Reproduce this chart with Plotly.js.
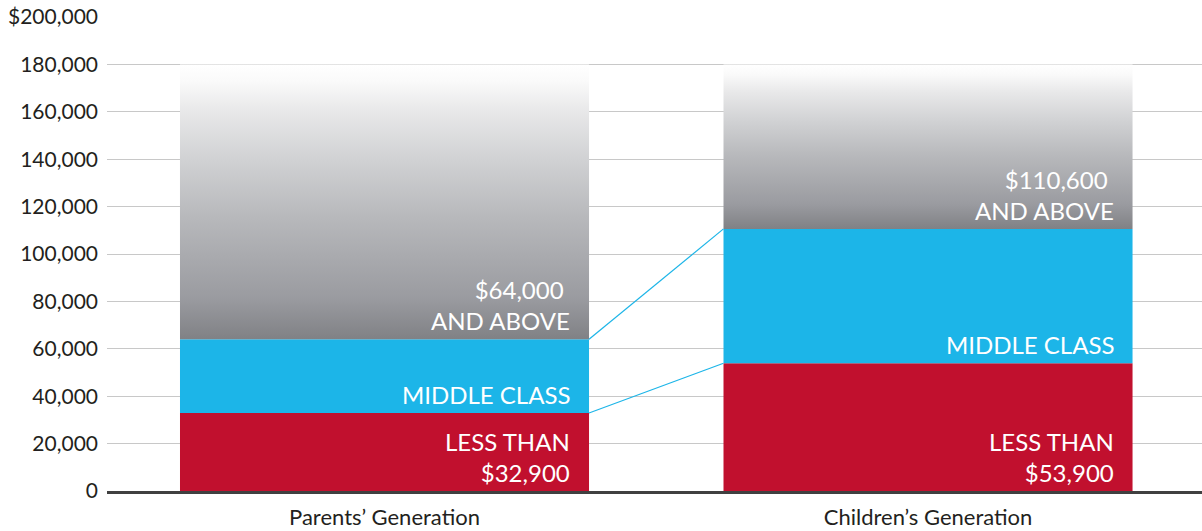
<!DOCTYPE html>
<html>
<head>
<meta charset="utf-8">
<script src="https://cdn.plot.ly/plotly-3.0.1.min.js"></script>
<style>
  html, body { margin: 0; padding: 0; background: #ffffff; }
  #chart { width: 1202px; height: 531px; }
</style>
</head>
<body>
<div id="chart"></div>
<script>
// ---- data ----
const categories = ["Parents\u2019 Generation", "Children\u2019s Generation"];
const lowerBound = [32900, 53900];     // top of "less than" segment
const upperBound = [64000, 110600];    // top of "middle class" segment
const topValue = [180000, 180000];     // top of the faded upper segment
const yTickVals = [0, 20000, 40000, 60000, 80000, 100000, 120000, 140000, 160000, 180000, 200000];
const yTickText = ["0", "20,000", "40,000", "60,000", "80,000", "100,000", "120,000", "140,000", "160,000", "180,000", "$200,000"];

// ---- styling ----
const RED = "#c1102e";
const BLUE = "#1cb5e8";
const FONT = "Lato, 'Open Sans', sans-serif";
const TXT = "#231f20";
const barWidth = 0.7526;
const xPos = categories.map((c, i) => i);

const fmt = v => "$" + v.toLocaleString("en-US");

const traces = [];

// gray faded segments (one trace each so each has its own gradient)
xPos.forEach((x, i) => {
  const x0 = x - barWidth / 2, x1 = x + barWidth / 2;
  traces.push({
    type: "scatter", mode: "lines",
    x: [x0, x1, x1, x0, x0],
    y: [upperBound[i], upperBound[i], topValue[i], topValue[i], upperBound[i]],
    fill: "toself",
    line: { width: 0, color: "rgba(0,0,0,0)" },
    fillgradient: {
      type: "vertical",
      colorscale: [
        [0, "#808185"], [0.15, "#9a9ba0"], [0.45, "#b8b9bc"],
        [0.65, "#d0d1d3"], [0.83, "#e8e8e9"], [0.94, "#fafafa"], [1, "#ffffff"]
      ]
    },
    hoverinfo: "skip", showlegend: false
  });
});

// red "less than" bars
traces.push({
  type: "bar", x: xPos, y: lowerBound, base: [0, 0], width: barWidth,
  marker: { color: RED, line: { width: 0 } }, showlegend: false, hoverinfo: "skip"
});
// blue middle class bars
traces.push({
  type: "bar", x: xPos, y: upperBound.map((u, i) => u - lowerBound[i]), base: lowerBound, width: barWidth,
  marker: { color: BLUE, line: { width: 0 } }, showlegend: false, hoverinfo: "skip"
});

// connector lines
[lowerBound, upperBound].forEach(arr => {
  traces.push({
    type: "scatter", mode: "lines",
    x: [xPos[0] + barWidth / 2, xPos[1] - barWidth / 2],
    y: [arr[0], arr[1]],
    line: { color: BLUE, width: 1.2 },
    hoverinfo: "skip", showlegend: false
  });
});

// in-bar labels
const annotations = [];
xPos.forEach((x, i) => {
  const common = {
    x: x + barWidth / 2, xref: "x", yref: "y",
    xanchor: "right", yanchor: "bottom", align: "right",
    xshift: -17, yshift: 2, showarrow: false,
    font: { family: FONT, size: 24, color: "#ffffff" }
  };
  annotations.push(Object.assign({}, common, { y: 0, text: "LESS THAN<br>" + fmt(lowerBound[i]) }));
  annotations.push(Object.assign({}, common, { y: lowerBound[i], text: "MIDDLE CLASS" }));
  annotations.push(Object.assign({}, common, { y: upperBound[i], text: fmt(upperBound[i]) + "\u00a0<br>AND ABOVE" }));
});

const layout = {
  width: 1202, height: 531,
  margin: { l: 107, r: 0, t: 17, b: 40 },
  paper_bgcolor: "#ffffff", plot_bgcolor: "#ffffff",
  barmode: "overlay",
  showlegend: false,
  font: { family: FONT, color: TXT },
  xaxis: {
    range: [-0.5106, 1.5041],
    tickvals: xPos, ticktext: categories,
    showgrid: false, zeroline: false,
    showline: true, linecolor: "#404040", linewidth: 3,
    ticks: "", ticklabelstandoff: 5,
    tickfont: { family: FONT, size: 22, color: TXT },
    fixedrange: true
  },
  yaxis: {
    range: [0, 200000],
    tickvals: yTickVals, ticktext: yTickText,
    showgrid: true, gridcolor: "#c8c8c8", gridwidth: 1,
    zeroline: false, showline: false, ticks: "",
    ticklabelstandoff: 8,
    tickfont: { family: FONT, size: 21, color: TXT },
    fixedrange: true
  },
  annotations: annotations
};

Plotly.newPlot("chart", traces, layout, { displayModeBar: false, staticPlot: true });
</script>
</body>
</html>
